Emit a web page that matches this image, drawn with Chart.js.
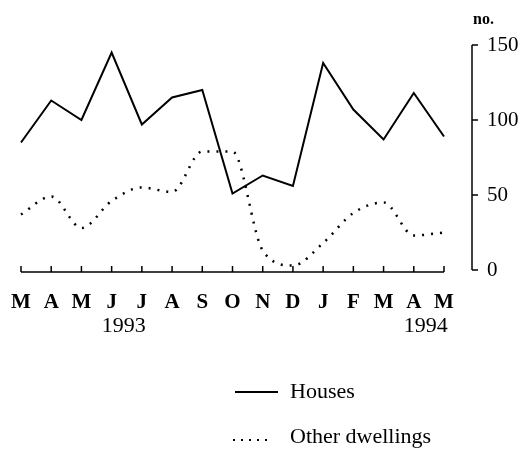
<!DOCTYPE html>
<html>
<head>
<meta charset="utf-8">
<script src="https://cdn.jsdelivr.net/npm/chart.js@4"></script>
<style>
  html, body { margin: 0; padding: 0; background: #fff; }
  #wrap { width: 523px; height: 459px; }
</style>
</head>
<body>
<div id="wrap"><canvas id="myChart" width="523" height="459"></canvas></div>
<script>
var months = ['M', 'A', 'M', 'J', 'J', 'A', 'S', 'O', 'N', 'D', 'J', 'F', 'M', 'A', 'M'];
var houses = [85, 113, 100, 145, 97, 115, 120, 51, 63, 56, 138, 107, 87, 118, 89];
var otherDwellings = [37, 49, 28, 46, 55, 52, 79, 79, 13, 3, 18, 38, 45, 23, 25];
var yTicks = [0, 50, 100, 150];
var years = [{ label: '1993', at: 3.4 }, { label: '1994', at: 13.4 }];

var serif = '"Liberation Serif", "DejaVu Serif", serif';

var axesPlugin = {
    id: 'printAxes',
    afterDraw: function (chart) {
        var c = chart.ctx;
        var x = chart.scales.x;
        var y = chart.scales.y;
        var area = chart.chartArea;
        c.save();
        c.strokeStyle = '#000';
        c.fillStyle = '#000';
        c.lineWidth = 1.5;

        // x axis with inward ticks
        var axisY = area.bottom + 2;
        c.beginPath();
        c.moveTo(x.getPixelForValue(0), axisY);
        c.lineTo(x.getPixelForValue(months.length - 1), axisY);
        for (var i = 0; i < months.length; i++) {
            var px = x.getPixelForValue(i);
            c.moveTo(px, axisY);
            c.lineTo(px, axisY - 6);
        }
        c.stroke();

        // y axis on the right, ticks pointing toward the labels
        var axisX = area.right + 28;
        c.beginPath();
        c.moveTo(axisX, y.getPixelForValue(150));
        c.lineTo(axisX, y.getPixelForValue(0));
        yTicks.forEach(function (v) {
            var py = y.getPixelForValue(v);
            c.moveTo(axisX, py);
            c.lineTo(axisX + 6, py);
        });
        c.stroke();

        // units
        c.font = 'bold 16px ' + serif;
        c.textAlign = 'left';
        c.textBaseline = 'middle';
        c.fillText('no.', 473, 20);

        // years
        c.font = '22px ' + serif;
        c.textAlign = 'center';
        years.forEach(function (yr) {
            c.fillText(yr.label, x.getPixelForValue(yr.at), 326);
        });

        // legend
        c.font = '22px ' + serif;
        c.textAlign = 'left';
        c.lineWidth = 2;
        c.beginPath();
        c.moveTo(235, 392);
        c.lineTo(278, 392);
        c.stroke();
        c.fillText('Houses', 290, 392);

        c.setLineDash([2, 6]);
        c.beginPath();
        c.moveTo(233, 440);
        c.lineTo(272, 440);
        c.stroke();
        c.setLineDash([]);
        c.fillText('Other dwellings', 290, 437);
        c.restore();
    }
};

var ctx = document.getElementById('myChart').getContext('2d');
var myChart = new Chart(ctx, {
    type: 'line',
    data: {
        labels: months,
        datasets: [{
            label: 'Houses',
            data: houses,
            borderColor: '#000',
            borderWidth: 2,
            pointRadius: 0,
            tension: 0
        }, {
            label: 'Other dwellings',
            data: otherDwellings,
            borderColor: '#000',
            borderWidth: 2.5,
            borderDash: [2, 7],
            pointRadius: 0,
            cubicInterpolationMode: 'monotone'
        }]
    },
    options: {
        responsive: false,
        animation: false,
        layout: { padding: { left: 21, top: 45, right: 0, bottom: 0 } },
        plugins: {
            legend: { display: false },
            tooltip: { enabled: false }
        },
        scales: {
            x: {
                offset: false,
                grid: { display: false, drawTicks: false },
                border: { display: false },
                ticks: {
                    color: '#000',
                    padding: 20,
                    maxRotation: 0,
                    autoSkip: false,
                    font: { family: serif, size: 21, weight: 'bold' }
                },
                afterFit: function (scale) {
                    scale.height = 189;
                    scale.paddingLeft = 0;
                    scale.paddingRight = 0;
                }
            },
            y: {
                position: 'right',
                min: 0,
                max: 150,
                grid: { display: false, drawTicks: false },
                border: { display: false },
                ticks: {
                    stepSize: 50,
                    color: '#000',
                    padding: 43,
                    font: { family: serif, size: 21 }
                },
                afterFit: function (scale) {
                    scale.width = 79;
                    scale.paddingTop = 0;
                    scale.paddingBottom = 0;
                }
            }
        }
    },
    plugins: [axesPlugin]
});
</script>
</body>
</html>
